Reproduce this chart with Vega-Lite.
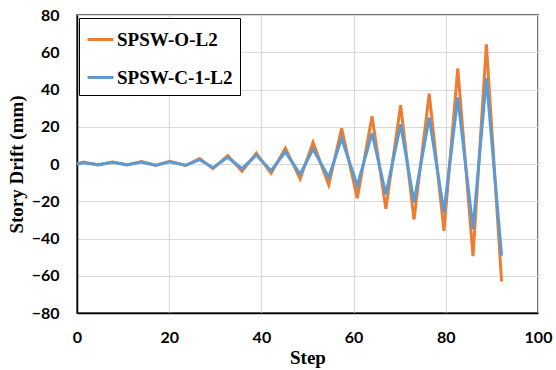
{
  "$schema": "https://vega.github.io/schema/vega-lite/v6.json",
  "width": 461,
  "height": 298,
  "autosize": "none",
  "padding": {"left": 77, "top": 15, "right": 18, "bottom": 57},
  "background": "white",
  "config": {
    "view": {"stroke": "#404040", "strokeWidth": 1.5},
    "axis": {
      "labelFont": "Lato", "labelFontWeight": "bold", "labelFontSize": 16, "labelColor": "#000",
      "titleFont": "Liberation Serif", "titleFontWeight": "bold", "titleFontSize": 19, "titleColor": "#000",
      "gridColor": "#d9d9d9", "gridWidth": 1.2, "labelFlush": false, "labelOverlap": false,
      "domainColor": "#000", "domainWidth": 1.5, "ticks": false
    }
  },
  "data": {"values": [
    {"series": "SPSW-O-L2", "step": 0, "drift": 0},
    {"series": "SPSW-O-L2", "step": 1.4, "drift": 1.0},
    {"series": "SPSW-O-L2", "step": 4.6, "drift": -0.5},
    {"series": "SPSW-O-L2", "step": 7.7, "drift": 1.0},
    {"series": "SPSW-O-L2", "step": 10.9, "drift": -0.5},
    {"series": "SPSW-O-L2", "step": 14.0, "drift": 1.3},
    {"series": "SPSW-O-L2", "step": 17.1, "drift": -0.8},
    {"series": "SPSW-O-L2", "step": 20.1, "drift": 1.4},
    {"series": "SPSW-O-L2", "step": 23.6, "drift": -0.8},
    {"series": "SPSW-O-L2", "step": 26.6, "drift": 3.0},
    {"series": "SPSW-O-L2", "step": 29.5, "drift": -2.5},
    {"series": "SPSW-O-L2", "step": 32.7, "drift": 4.5},
    {"series": "SPSW-O-L2", "step": 35.8, "drift": -3.8},
    {"series": "SPSW-O-L2", "step": 38.9, "drift": 5.8},
    {"series": "SPSW-O-L2", "step": 42.1, "drift": -5.0},
    {"series": "SPSW-O-L2", "step": 45.2, "drift": 8.5},
    {"series": "SPSW-O-L2", "step": 48.4, "drift": -8.0},
    {"series": "SPSW-O-L2", "step": 51.2, "drift": 11.6},
    {"series": "SPSW-O-L2", "step": 54.6, "drift": -11.3},
    {"series": "SPSW-O-L2", "step": 57.4, "drift": 19.1},
    {"series": "SPSW-O-L2", "step": 60.8, "drift": -18.4},
    {"series": "SPSW-O-L2", "step": 64.0, "drift": 25.6},
    {"series": "SPSW-O-L2", "step": 67.0, "drift": -24.1},
    {"series": "SPSW-O-L2", "step": 70.2, "drift": 31.6},
    {"series": "SPSW-O-L2", "step": 73.1, "drift": -29.9},
    {"series": "SPSW-O-L2", "step": 76.4, "drift": 37.7},
    {"series": "SPSW-O-L2", "step": 79.6, "drift": -35.9},
    {"series": "SPSW-O-L2", "step": 82.6, "drift": 51.3},
    {"series": "SPSW-O-L2", "step": 85.9, "drift": -49.5},
    {"series": "SPSW-O-L2", "step": 88.8, "drift": 64.3},
    {"series": "SPSW-O-L2", "step": 92.1, "drift": -63.1},
    {"series": "SPSW-C-1-L2", "step": 0, "drift": 0},
    {"series": "SPSW-C-1-L2", "step": 1.4, "drift": 0.7},
    {"series": "SPSW-C-1-L2", "step": 4.6, "drift": -0.4},
    {"series": "SPSW-C-1-L2", "step": 7.7, "drift": 0.9},
    {"series": "SPSW-C-1-L2", "step": 10.9, "drift": -0.4},
    {"series": "SPSW-C-1-L2", "step": 14.0, "drift": 1.1},
    {"series": "SPSW-C-1-L2", "step": 17.1, "drift": -0.6},
    {"series": "SPSW-C-1-L2", "step": 20.1, "drift": 1.2},
    {"series": "SPSW-C-1-L2", "step": 23.6, "drift": -0.7},
    {"series": "SPSW-C-1-L2", "step": 26.6, "drift": 2.3},
    {"series": "SPSW-C-1-L2", "step": 29.5, "drift": -2.0},
    {"series": "SPSW-C-1-L2", "step": 32.7, "drift": 3.6},
    {"series": "SPSW-C-1-L2", "step": 35.8, "drift": -2.5},
    {"series": "SPSW-C-1-L2", "step": 38.9, "drift": 4.8},
    {"series": "SPSW-C-1-L2", "step": 42.1, "drift": -3.6},
    {"series": "SPSW-C-1-L2", "step": 45.2, "drift": 6.5},
    {"series": "SPSW-C-1-L2", "step": 48.4, "drift": -5.5},
    {"series": "SPSW-C-1-L2", "step": 51.2, "drift": 8.0},
    {"series": "SPSW-C-1-L2", "step": 54.6, "drift": -7.2},
    {"series": "SPSW-C-1-L2", "step": 57.4, "drift": 13.8},
    {"series": "SPSW-C-1-L2", "step": 60.8, "drift": -11.6},
    {"series": "SPSW-C-1-L2", "step": 64.0, "drift": 16.6},
    {"series": "SPSW-C-1-L2", "step": 67.0, "drift": -16.3},
    {"series": "SPSW-C-1-L2", "step": 70.2, "drift": 21.3},
    {"series": "SPSW-C-1-L2", "step": 73.1, "drift": -20.6},
    {"series": "SPSW-C-1-L2", "step": 76.4, "drift": 25.0},
    {"series": "SPSW-C-1-L2", "step": 79.6, "drift": -25.9},
    {"series": "SPSW-C-1-L2", "step": 82.6, "drift": 35.8},
    {"series": "SPSW-C-1-L2", "step": 85.9, "drift": -34.9},
    {"series": "SPSW-C-1-L2", "step": 88.8, "drift": 46.1},
    {"series": "SPSW-C-1-L2", "step": 92.1, "drift": -49.2}
  ]},
  "mark": {"type": "line", "strokeWidth": 3, "strokeJoin": "miter"},
  "encoding": {
    "x": {
      "field": "step", "type": "quantitative", "title": "Step",
      "scale": {"domain": [0, 100], "nice": false},
      "axis": {"values": [0, 20, 40, 60, 80, 100], "labelPadding": 16, "titlePadding": 3}
    },
    "y": {
      "field": "drift", "type": "quantitative", "title": "Story Drift (mm)",
      "scale": {"domain": [-80, 80], "nice": false},
      "axis": {"values": [-80, -60, -40, -20, 0, 20, 40, 60, 80], "labelPadding": 18, "titlePadding": 5}
    },
    "color": {
      "field": "series", "type": "nominal",
      "sort": ["SPSW-O-L2", "SPSW-C-1-L2"],
      "scale": {"domain": ["SPSW-O-L2", "SPSW-C-1-L2"], "range": ["#ED7D31", "#5B9BD5"]},
      "legend": {
        "title": null, "orient": "none", "legendX": 2, "legendY": 3,
        "fillColor": "white", "strokeColor": "#000", "padding": 7,
        "symbolType": "stroke", "symbolStrokeWidth": 3, "symbolSize": 676,
        "labelFont": "Liberation Serif", "labelFontWeight": "bold", "labelFontSize": 19, "labelColor": "#000",
        "rowPadding": 13, "labelOffset": 2, "labelLimit": 300
      }
    }
  }
}
